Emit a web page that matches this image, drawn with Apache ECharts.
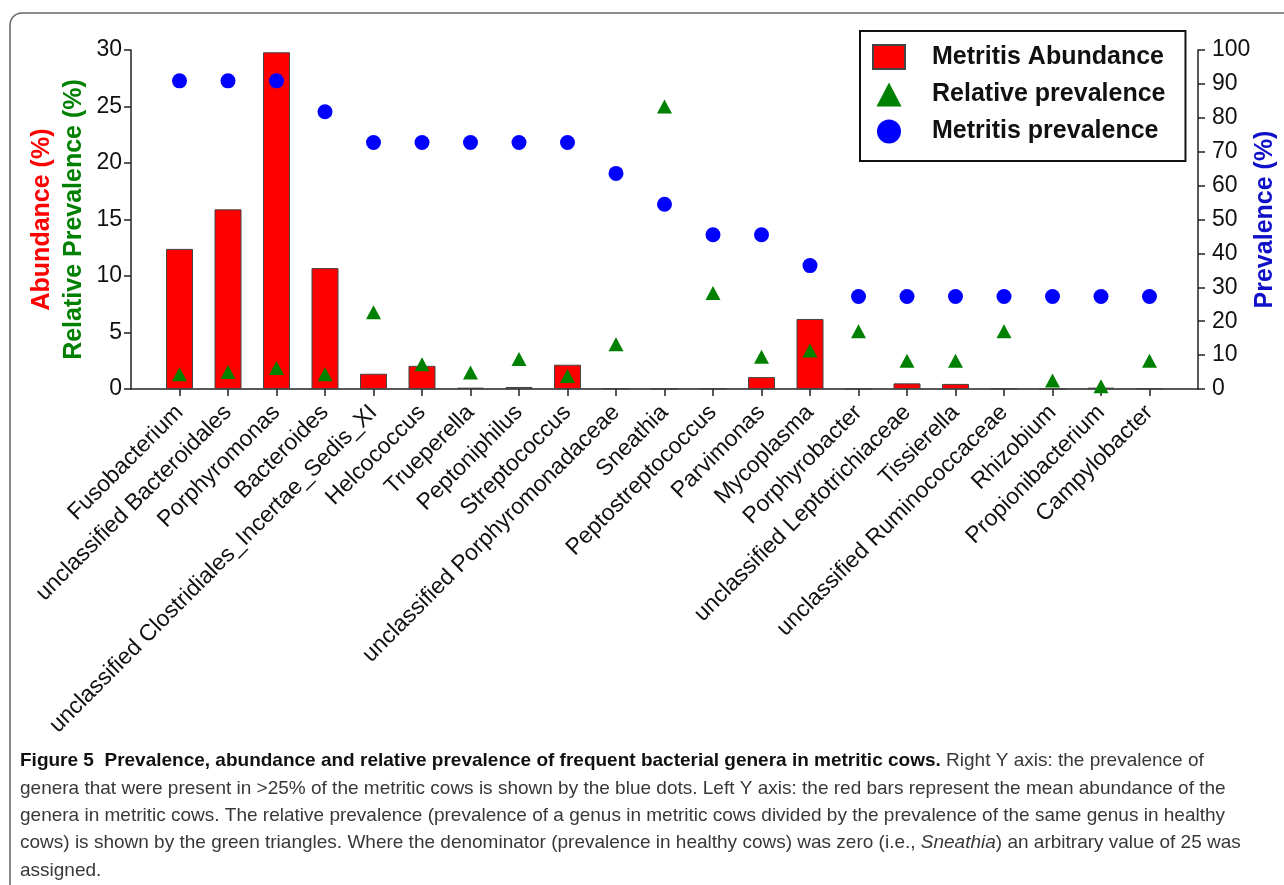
<!DOCTYPE html>
<html>
<head>
<meta charset="utf-8">
<script src="https://cdn.jsdelivr.net/npm/echarts@6/dist/echarts.min.js"></script>
<style>
  html, body { margin: 0; padding: 0; background: #fff; }
  #chart { width: 1284px; height: 885px; }
</style>
</head>
<body>
<div id="chart"></div>
<script>
// genera, in the order of the x axis
var genera = [
  "Fusobacterium", "unclassified Bacteroidales", "Porphyromonas", "Bacteroides",
  "unclassified Clostridiales_Incertae_Sedis_XI", "Helcococcus", "Trueperella",
  "Peptoniphilus", "Streptococcus", "unclassified Porphyromonadaceae", "Sneathia",
  "Peptostreptococcus", "Parvimonas", "Mycoplasma", "Porphyrobacter",
  "unclassified Leptotrichiaceae", "Tissierella", "unclassified Ruminococcaceae",
  "Rhizobium", "Propionibacterium", "Campylobacter"
];
// red bars, left axis (%)
var abundance = [12.4, 15.9, 29.8, 10.7, 1.35, 2.05, 0.12, 0.18, 2.15, 0.05, 0.03,
  0.05, 1.05, 6.2, 0, 0.5, 0.45, 0.05, 0, 0.12, 0.05];
// green triangles, left axis (%)
var relPrevalence = [1.3, 1.5, 1.85, 1.3, 6.8, 2.2, 1.45, 2.65, 1.15, 3.95, 25,
  8.5, 2.85, 3.4, 5.1, 2.5, 2.5, 5.1, 0.75, 0.25, 2.5];
// blue dots, right axis (%)
var prevalence = [90.9, 90.9, 90.9, 81.8, 72.7, 72.7, 72.7, 72.7, 72.7, 63.6, 54.5,
  45.5, 45.5, 36.4, 27.3, 27.3, 27.3, 27.3, 27.3, 27.3, 27.3];

var captionLines = [
  "{b|Figure 5  Prevalence, abundance and relative prevalence of frequent bacterial genera in metritic cows.} Right Y axis: the prevalence of",
  "genera that were present in >25% of the metritic cows is shown by the blue dots. Left Y axis: the red bars represent the mean abundance of the",
  "genera in metritic cows. The relative prevalence (prevalence of a genus in metritic cows divided by the prevalence of the same genus in healthy",
  "cows) is shown by the green triangles. Where the denominator (prevalence in healthy cows) was zero (i.e., {i|Sneathia}) an arbitrary value of 25 was",
  "assigned."
];

var FONT = "'Liberation Sans', Arial, sans-serif";

// one empty slot at each end, so the first and last genus sit one step in from the axes
var cats = [""].concat(genera, [""]);
function pad (arr) { return ["-"].concat(arr, ["-"]); }

var myChart = echarts.init(document.getElementById("chart"));

var captionEls = captionLines.map(function (line, i) {
  return {
    type: "text",
    x: 20,
    y: 761 + i * 27.4,
    style: {
      text: line,
      fill: "#383838",
      fontSize: 19,
      fontFamily: FONT,
      verticalAlign: "middle",
      rich: {
        b: { fontSize: 19, fontFamily: FONT, fontWeight: "bold", fill: "#111" },
        i: { fontSize: 19, fontFamily: FONT, fontStyle: "italic", fill: "#383838" }
      }
    }
  };
});

var axisLineStyle = { color: "#222", width: 1.5 };

var option = {
  animation: false,
  backgroundColor: "#fff",
  textStyle: { fontFamily: FONT },
  grid: { left: 131, right: 86, top: 50, bottom: 496, containLabel: false, outerBoundsMode: "none" },
  graphic: [
    {
      type: "rect",
      shape: { x: 10, y: 13, width: 1320, height: 920, r: 12 },
      style: { fill: "none", stroke: "#666", lineWidth: 1.5 },
      z: -1
    }
  ].concat(captionEls),
  legend: {
    orient: "vertical",
    left: 860,
    top: 31,
    padding: [13, 20, 17, 12],
    itemWidth: 32,
    itemHeight: 24,
    itemGap: 12,
    borderColor: "#111",
    borderWidth: 2,
    textStyle: {
      fontSize: 25, fontWeight: "bold", color: "#111", fontFamily: FONT,
      padding: [0, 0, 0, 22]
    },
    data: [
      { name: "Metritis Abundance", icon: "rect" },
      { name: "Relative prevalence", icon: "path://M12,0L24,23L0,23Z" },
      { name: "Metritis prevalence", icon: "circle" }
    ]
  },
  xAxis: {
    type: "category",
    data: cats,
    boundaryGap: false,
    axisLine: { lineStyle: axisLineStyle },
    axisTick: {
      length: 7,
      lineStyle: axisLineStyle,
      interval: function (idx) { return idx > 0 && idx < cats.length - 1; }
    },
    axisLabel: {
      interval: 0,
      rotate: 45,
      margin: 20,
      fontSize: 23,
      color: "#111",
      fontFamily: FONT
    },
    splitLine: { show: false }
  },
  yAxis: [
    {
      type: "value",
      position: "left",
      min: 0, max: 30, interval: 5,
      name: "Abundance (%)",
      nameLocation: "middle",
      nameRotate: 90,
      nameGap: 76,
      nameTextStyle: { color: "#ff0000", fontSize: 25, fontWeight: "bold", fontFamily: FONT },
      axisLine: { show: true, lineStyle: axisLineStyle },
      axisTick: { show: true, length: 7, lineStyle: axisLineStyle },
      axisLabel: { fontSize: 23, color: "#111", margin: 9, fontFamily: FONT },
      splitLine: { show: false }
    },
    {
      type: "value",
      position: "right",
      min: 0, max: 100, interval: 10,
      name: "Prevalence (%)",
      nameLocation: "middle",
      nameRotate: 90,
      nameGap: 55,
      nameMoveOverlap: false,
      nameTextStyle: { color: "#1010c8", fontSize: 25, fontWeight: "bold", fontFamily: FONT },
      axisLine: { show: true, lineStyle: axisLineStyle },
      axisTick: { show: true, length: 7, lineStyle: axisLineStyle },
      axisLabel: { fontSize: 23, color: "#111", margin: 14, fontFamily: FONT },
      splitLine: { show: false }
    },
    {
      // same scale as the left axis; only carries the green title
      type: "value",
      position: "left",
      min: 0, max: 30, interval: 5,
      name: "Relative Prevalence (%)",
      nameLocation: "middle",
      nameRotate: 90,
      nameGap: 44,
      nameTextStyle: { color: "#008000", fontSize: 25, fontWeight: "bold", fontFamily: FONT },
      axisLine: { show: false },
      axisTick: { show: false },
      axisLabel: { show: false },
      splitLine: { show: false }
    }
  ],
  series: [
    {
      name: "Metritis Abundance",
      type: "bar",
      yAxisIndex: 0,
      barWidth: 27,
      itemStyle: { color: "#ff0000", borderColor: "#444", borderWidth: 1 },
      data: pad(abundance),
      z: 1
    },
    {
      name: "Metritis prevalence",
      type: "scatter",
      yAxisIndex: 1,
      symbol: "circle",
      symbolSize: 15,
      itemStyle: { color: "#0000ff", opacity: 1 },
      data: pad(prevalence),
      z: 2
    },
    {
      name: "Relative prevalence",
      type: "scatter",
      yAxisIndex: 2,
      symbol: "triangle",
      symbolSize: [15, 14],
      itemStyle: { color: "#008000", opacity: 1 },
      data: pad(relPrevalence),
      z: 3
    }
  ]
};

myChart.setOption(option);
</script>
</body>
</html>
